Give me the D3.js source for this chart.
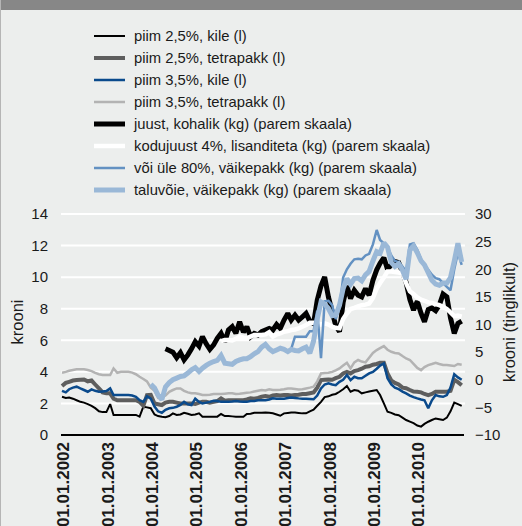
<!DOCTYPE html>
<html>
<head>
<meta charset="utf-8">
<script src="https://cdn.jsdelivr.net/npm/d3@7"></script>
<style>
  html, body { margin: 0; padding: 0; background: #eceeed; }
  svg { display: block; font-family: "Liberation Sans", Arial, Helvetica, sans-serif; }
</style>
</head>
<body>
<svg id="chart" width="522" height="526"></svg>
<script>
// monthly prices, 01.2002 ... 01.2011 (one value per month, null = no data)
const yearTicks = [2002, 2003, 2004, 2005, 2006, 2007, 2008, 2009, 2010];
const leftTicks = [0, 2, 4, 6, 8, 10, 12, 14];
const rightTicks = [-10, -5, 0, 5, 10, 15, 20, 25, 30];

const piimKile25 = [
  2.42, 2.35, 2.38, 2.3, 2.2, 2.1, 2.05, 1.96, 1.85, 1.7, 1.5, 1.45,
  1.45, 1.96, 1.27, 1.27, 1.27, 1.27, 1.27, 1.27, 1.27, 1.16, 1.79, 1.75,
  1.7, 1.3, 1.2, 1.15, 1.12, 1.2, 1.37, 1.27, 1.3, 1.41, 1.35, 1.27,
  1.3, 1.37, 1.16, 1.16, 1.16, 1.16, 1.16, 1.33, 1.2, 1.2, 1.18, 1.16,
  1.16, 1.16, 1.33, 1.35, 1.41, 1.41, 1.41, 1.43, 1.41, 1.38, 1.3, 1.22,
  1.37, 1.4, 1.43, 1.43, 1.4, 1.37, 1.37, 1.5, 1.6, 1.85, 2.1, 2.4,
  2.45, 2.55, 2.6, 2.74, 2.9, 3.1, 2.74, 2.85, 2.8, 2.64, 2.7, 2.75,
  2.8, 2.85, 2.53, 2.0, 1.47, 1.4, 1.3, 1.25, 1.1, 0.95, 0.85, 0.75,
  0.6, 0.53, 0.7, 0.84, 0.95, 1.05, 1.0, 0.95, 1.1, 1.5, 2.05, 1.96,
  1.85
];
const piimTetra25 = [
  3.1, 3.3, 3.37, 3.45, 3.48, 3.5, 3.52, 3.4, 3.45, 3.2, 2.95, 2.7,
  2.64, 2.64, 2.3, 2.2, 2.2, 2.2, 2.2, 2.2, 2.2, 2.1, 1.85, 2.53,
  2.55, 2.0, 1.95, 1.9, 2.05, 2.1, 2.1, 2.05, 2.0, 2.0, 2.0, 2.0,
  1.96, 2.05, 2.1, 2.1, 2.05, 2.1, 2.15, 2.32, 2.17, 2.2, 2.2, 2.2,
  2.2, 2.2, 2.25, 2.32, 2.3, 2.35, 2.42, 2.47, 2.42, 2.5, 2.53, 2.5,
  2.53, 2.53, 2.5, 2.53, 2.55, 2.6, 2.6, 2.65, 2.7, 3.0, 3.48, 3.5,
  3.52, 3.5, 3.6, 3.69, 3.9, 4.0, 3.9, 4.05, 4.11, 4.2, 4.32, 4.35,
  4.45, 4.5, 4.58, 4.58, 3.9, 3.45, 3.3, 3.2, 3.0, 2.96, 2.85, 2.75,
  2.74, 2.7, 2.6, 2.53, 2.6, 2.74, 2.74, 2.74, 2.74, 2.8, 3.5, 3.35,
  3.15
];
const piimKile35 = [
  2.8, 2.7, 2.9, 3.0, 3.06, 2.95, 2.85, 2.74, 2.89, 2.8, 2.74, 2.76,
  2.78, 2.95, 2.53, 2.53, 2.53, 2.53, 2.53, 2.5, 2.42, 2.2, 2.1, 2.45,
  2.3, 1.8, 1.5, 1.41, 1.6, 1.69, 1.72, 1.79, 1.9, 2.1, 1.95, 1.9,
  2.3, 2.1, 2.0, 2.05, 2.1, 2.17, 2.15, 2.1, 2.1, 2.1, 2.12, 2.15,
  2.12, 2.1, 2.1, 2.15, 2.15, 2.2, 2.2, 2.2, 2.25, 2.32, 2.3, 2.3,
  2.3, 2.35, 2.38, 2.35, 2.32, 2.3, 2.3, 2.28, 2.26, 2.5, 2.95, 3.2,
  3.27, 3.2, 3.16, 3.37, 3.5, 3.8, 3.48, 3.69, 3.6, 3.59, 3.75, 3.9,
  4.0, 4.2, 4.4, 4.53, 3.6, 3.2, 3.0, 2.9, 2.75, 2.64, 2.5, 2.4,
  2.32, 2.25, 2.2, 1.69, 2.2, 2.53, 2.45, 2.42, 2.53, 3.0, 3.85, 3.65,
  3.5
];
const piimTetra35 = [
  3.94, 4.0, 4.07, 4.12, 4.16, 4.16, 4.16, 4.12, 4.05, 3.94, 3.85, 3.8,
  3.8, 3.8, 4.22, 3.94, 4.0, 4.0, 4.0, 3.95, 3.85, 3.69, 3.55, 3.4,
  3.0, 2.8, 2.35, 2.38, 2.5, 2.74, 2.85, 2.95, 2.95, 2.8, 2.7, 2.64,
  2.64, 2.6, 2.53, 2.53, 2.55, 2.6, 2.6, 2.6, 2.62, 2.64, 2.64, 2.6,
  2.62, 2.65, 2.68, 2.7, 2.75, 2.8, 2.85, 2.82, 2.89, 2.85, 2.85, 2.87,
  2.9, 2.95, 2.95, 2.92, 2.89, 2.9, 2.95, 3.0, 3.06, 3.4, 3.9, 3.92,
  3.94, 4.0, 4.1, 4.22, 4.4, 4.58, 4.22, 4.6, 4.75, 4.65, 4.6, 4.9,
  5.2, 5.38, 5.5, 5.63, 5.4, 5.27, 5.2, 5.17, 5.0, 4.85, 4.75, 4.5,
  4.25, 4.11, 4.3, 4.43, 4.5, 4.58, 4.5, 4.43, 4.43, 4.4, 4.37, 4.5,
  4.45
];
const juust = [
  null, null, null, null, null, null, null, null, null, null, null, null,
  null, null, null, null, null, null, null, null, null, null, null, null,
  null, null, null, null, 5.6, 5.3, 5.0, 4.0, 4.9, 3.6, 4.5, 5.6,
  6.9, 6.1, 7.8, 6.5, 5.5, 6.3, 7.5, 8.4, 6.9, 9.0, 9.6, 8.4,
  10.5, 8.6, 9.6, 7.8, 8.4, 8.1, 8.7, 9.0, 9.3, 9.0, 10.0, 9.3,
  10.8, 12.0, 10.8, 11.7, 10.8, 11.4, 12.0, 10.6, 10.2, 14.4, 17.0, 18.6,
  15.0, 12.3, 9.8, 8.7, 14.0, 17.0, 14.7, 16.2, 15.3, 15.0, 16.5, 15.3,
  18.0, 19.9, 21.1, 22.1, 20.0, 20.8, 21.4, 21.2, 19.5, 17.6, 14.5, 12.6,
  14.2, 12.0, 10.5, 12.7, 13.0, 12.5, 13.5, 15.5, 15.0, 11.2, 8.4, 10.2,
  10.6
];
const kodujuust = [
  null, null, null, null, null, null, null, null, null, null, null, null,
  null, null, null, null, null, null, null, null, null, null, null, null,
  null, null, null, null, null, null, null, null, null, null, null, null,
  null, null, null, null, null, null, null, 7.0, 7.2, 7.2, 7.1, 7.4,
  7.8, 7.6, 7.5, 7.8, 8.1, 8.1, 8.1, 8.2, 8.6, 7.8, 8.2, 8.4,
  8.7, 8.8, 9.0, 9.1, 9.3, 9.6, 9.9, 10.3, 10.3, 10.3, 10.0, 10.2,
  10.0, 9.6, 9.4, 9.3, 11.0, 12.0, 12.8, 13.0, 13.3, 13.5, 13.6, 13.8,
  14.8, 16.5, 17.5, 18.5, 19.6, 19.6, 19.5, 19.4, 19.2, 17.5, 16.0, 15.5,
  14.9, 14.5, 14.3, 14.0, 13.9, 13.7, 13.5, 13.2, 12.8, 12.2, 11.5, 11.6,
  11.4
];
const voi80 = [
  null, null, null, null, null, null, null, null, null, null, null, null,
  null, null, null, null, null, null, null, null, null, null, null, null,
  null, null, null, null, null, null, null, null, null, null, null, null,
  null, null, null, null, null, null, null, null, null, null, null, null,
  null, null, null, null, null, null, null, null, null, null, null, null,
  null, null, 5.6, 7.8, 7.8, 7.8, 7.8, 8.8, 8.8, 12.5, 3.9, 14.2,
  14.3, 13.5, 11.0, 13.0, 18.5, 20.0, 21.0, 21.8, 21.9, 21.8, 22.5, 22.8,
  24.5, 27.1, 25.3, 24.7, 24.0, 22.5, 21.5, 21.3, 20.5, 19.6, 24.5, 24.7,
  23.5, 21.8, 20.8, 19.9, 19.0, 18.4, 18.2, 17.5, 16.8, 16.2, 20.0, 23.0,
  20.8
];
const taluvoi = [
  null, null, null, null, null, null, null, null, null, null, null, null,
  null, null, null, null, null, null, null, null, null, null, null, null,
  -0.8, -1.5, -2.8, -3.6, -1.3, -0.5, 0.0, 0.3, 0.6, 0.7, 1.2, 1.8,
  2.2, 1.5, 2.1, 2.6, 3.0, 3.3, 3.5, 4.4, 3.0, 2.9, 2.8, 3.3,
  3.6, 3.8, 3.8, 4.2, 4.7, 5.1, 5.9, 6.4, 5.6, 5.1, 5.4, 5.7,
  5.5, 5.1, 5.5, 5.3, 5.2, 5.6, 5.9, 4.8, 7.0, 11.0, 14.1, 13.7,
  12.9, 11.6, 11.7, 13.5, 16.5, 18.3, 17.3, 18.3, 18.4, 17.9, 19.0, 19.6,
  21.5, 23.2, 22.9, 24.8, 24.0, 21.2, 20.5, 21.0, 19.8, 18.2, 23.5, 24.2,
  23.0, 21.5, 20.8, 19.4, 18.0, 17.3, 17.1, 17.5, 17.5, 18.5, 21.5, 24.7,
  21.3
];

const series = [
  { name: "piim 2,5%, kile (l)", values: piimKile25, axis: "left", color: "#000000", width: 2 },
  { name: "piim 2,5%, tetrapakk (l)", values: piimTetra25, axis: "left", color: "#5e5e5e", width: 4 },
  { name: "piim 3,5%, kile (l)", values: piimKile35, axis: "left", color: "#0a4a8c", width: 2.5 },
  { name: "piim 3,5%, tetrapakk (l)", values: piimTetra35, axis: "left", color: "#b3b3b3", width: 2.5 },
  { name: "juust, kohalik (kg) (parem skaala)", values: juust, axis: "right", color: "#000000", width: 5 },
  { name: "kodujuust 4%, lisanditeta (kg) (parem skaala)", values: kodujuust, axis: "right", color: "#ffffff", width: 4.5 },
  { name: "või üle 80%, väikepakk (kg) (parem skaala)", values: voi80, axis: "right", color: "#6391c2", width: 2.5 },
  { name: "taluvõie, väikepakk (kg) (parem skaala)", values: taluvoi, axis: "right", color: "#9ab8d7", width: 5 }
];

const months = piimKile25.map((d, i) => new Date(2002, i, 1));

const svg = d3.select("#chart");

// background + top bar
svg.append("rect").attr("width", 522).attr("height", 526).attr("fill", "#eceeed");
svg.append("rect").attr("width", 522).attr("height", 10).attr("fill", "#878787");
svg.append("rect").attr("width", 1).attr("height", 526).attr("fill", "#b5b5b5");

const plotLeft = 62, plotRight = 464, plotTop = 214, plotBottom = 435;

const x = d3.scaleTime()
  .domain([new Date(2002, 0, 1), new Date(2011, 0, 20)])
  .range([plotLeft, plotRight]);
const yLeft = d3.scaleLinear().domain([0, 14]).range([plotBottom, plotTop]);
const yRight = d3.scaleLinear().domain([-10, 30]).range([plotBottom, plotTop]);

// gridlines
svg.append("g")
  .selectAll("line")
  .data(leftTicks.filter(d => d > 0))
  .join("line")
  .attr("x1", plotLeft - 1)
  .attr("x2", plotRight + 1)
  .attr("y1", d => yLeft(d))
  .attr("y2", d => yLeft(d))
  .attr("stroke", "#ffffff")
  .attr("stroke-width", 2);

// left axis
const leftAxis = svg.append("g")
  .attr("transform", `translate(${plotLeft - 14},0)`)
  .call(d3.axisLeft(yLeft).tickValues(leftTicks).tickSize(0).tickPadding(0));
leftAxis.select(".domain").remove();
leftAxis.selectAll("text")
  .attr("font-size", 15)
  .attr("fill", "#1a1a1a")
  .attr("font-family", "Liberation Sans, Arial, sans-serif");

// right axis
const rightAxis = svg.append("g")
  .attr("transform", `translate(${plotRight + 11},0)`)
  .call(d3.axisRight(yRight).tickValues(rightTicks).tickSize(0).tickPadding(0));
rightAxis.select(".domain").remove();
rightAxis.selectAll("text")
  .attr("font-size", 15)
  .attr("fill", "#1a1a1a")
  .attr("font-family", "Liberation Sans, Arial, sans-serif");

// axis titles
svg.append("text")
  .attr("transform", "translate(23,322) rotate(-90)")
  .attr("text-anchor", "middle")
  .attr("font-size", 16.5)
  .attr("fill", "#1a1a1a")
  .text("krooni");
svg.append("text")
  .attr("transform", "translate(515,322) rotate(-90)")
  .attr("text-anchor", "middle")
  .attr("font-size", 16.5)
  .attr("fill", "#1a1a1a")
  .text("krooni (tinglikult)");

// lines
const lineGroup = svg.append("g");
series.forEach(s => {
  const y = s.axis === "left" ? yLeft : yRight;
  const line = d3.line()
    .defined(d => d != null)
    .x((d, i) => x(months[i]))
    .y(d => y(d));
  lineGroup.append("path")
    .datum(s.values)
    .attr("fill", "none")
    .attr("stroke", s.color)
    .attr("stroke-width", s.width)
    .attr("stroke-linejoin", "miter")
    .attr("stroke-miterlimit", 2)
    .attr("d", line);
});

// x axis line
svg.append("line")
  .attr("x1", plotLeft - 1).attr("x2", plotRight)
  .attr("y1", plotBottom).attr("y2", plotBottom)
  .attr("stroke", "#000").attr("stroke-width", 2);

// x tick labels
svg.append("g")
  .selectAll("text")
  .data(yearTicks)
  .join("text")
  .attr("transform", d => `translate(${x(new Date(d, 0, 1)) + 1},442) rotate(-90)`)
  .attr("text-anchor", "end")
  .attr("dy", "0.36em")
  .attr("font-size", 17)
  .attr("font-weight", "bold")
  .attr("fill", "#1a1a1a")
  .text(d => "01.01." + d);

// legend
const legend = svg.append("g").attr("transform", "translate(94,36)");
const rows = legend.selectAll("g")
  .data(series)
  .join("g")
  .attr("transform", (d, i) => `translate(0,${i * 22})`);
rows.append("line")
  .attr("x1", 0).attr("x2", 31)
  .attr("stroke", d => d.color)
  .attr("stroke-width", d => d.width);
rows.append("text")
  .attr("x", 40)
  .attr("dy", "0.35em")
  .attr("font-size", 14.8)
  .attr("fill", "#1a1a1a")
  .text(d => d.name);
</script>
</body>
</html>
